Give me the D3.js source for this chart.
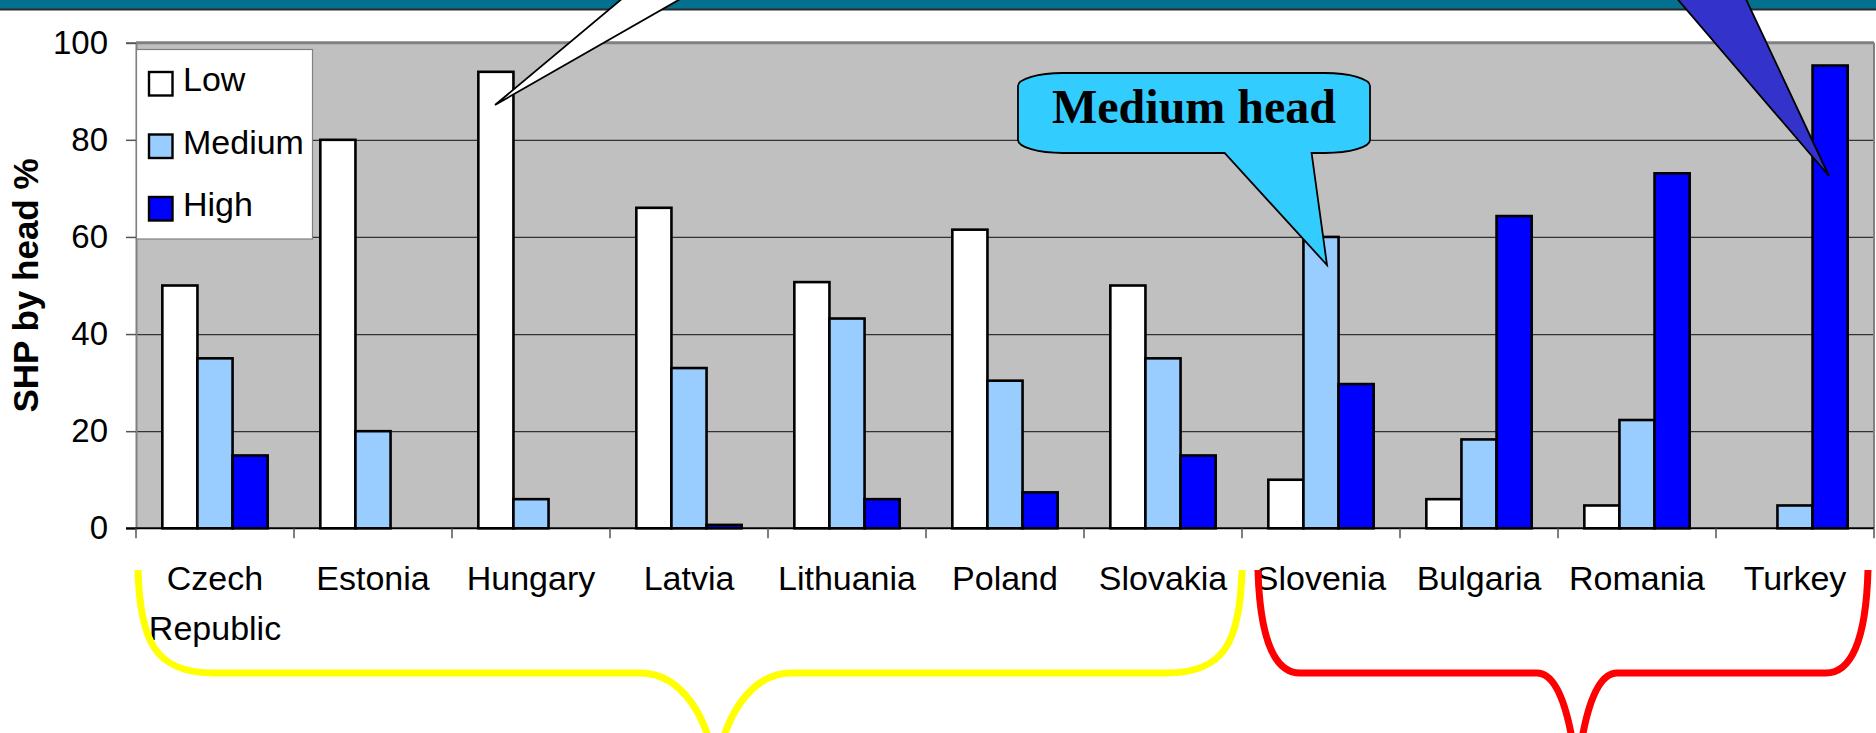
<!DOCTYPE html>
<html>
<head>
<meta charset="utf-8">
<script src="https://cdnjs.cloudflare.com/ajax/libs/d3/7.8.5/d3.min.js"></script>
<style>
  html, body { margin: 0; padding: 0; background: #fff; }
  svg { display: block; }
  text { font-family: "Liberation Sans", Arial, sans-serif; }
</style>
</head>
<body>
<div id="chart"></div>
<script>
'use strict';

var categories = ['Czech Republic', 'Estonia', 'Hungary', 'Latvia', 'Lithuania', 'Poland',
  'Slovakia', 'Slovenia', 'Bulgaria', 'Romania', 'Turkey'];
var seriesNames = ['Low', 'Medium', 'High'];
var lowValues = [50, 80, 94, 66, 50.7, 61.5, 50, 10, 6, 4.7, 0];
var mediumValues = [35, 20, 6, 33, 43.2, 30.4, 35, 60, 18.3, 22.3, 4.7];
var highValues = [15, 0, 0, 0.7, 6, 7.4, 15, 29.7, 64.3, 73.1, 95.3];
var yTicks = [0, 20, 40, 60, 80, 100];
var colors = ['#FFFFFF', '#99CCFF', '#0000FF'];

var W = 1876, H = 733;
var plotLeft = 136, plotRight = 1874, plotTop = 42.7, plotBottom = 528.3;

var svg = d3.select('#chart').append('svg')
  .attr('width', W)
  .attr('height', H);

svg.append('rect').attr('width', W).attr('height', H).attr('fill', '#fff');

// slide header strip
svg.append('rect').attr('x', 0).attr('y', 0).attr('width', W).attr('height', 9)
  .attr('fill', '#03708F');
svg.append('line').attr('x1', 0).attr('x2', W).attr('y1', 9.5).attr('y2', 9.5)
  .attr('stroke', '#2a2a2a').attr('stroke-width', 2);

var x0 = d3.scaleBand().domain(categories).range([plotLeft, plotRight]).padding(0);
var x1 = d3.scaleBand().domain(seriesNames).range([0, x0.bandwidth()])
  .paddingInner(0).paddingOuter(0.75);
var y = d3.scaleLinear().domain([0, 100]).range([plotBottom, plotTop]);

var rows = categories.map(function(c, i){
  return {cat: c, values: [lowValues[i], mediumValues[i], highValues[i]]};
});

// plot area
svg.append('rect')
  .attr('x', plotLeft).attr('y', plotTop)
  .attr('width', plotRight - plotLeft).attr('height', plotBottom - plotTop)
  .attr('fill', '#C0C0C0');

svg.append('g')
  .attr('class', 'grid')
  .attr('transform', 'translate(' + plotLeft + ',0)')
  .call(d3.axisLeft(y).tickValues([20, 40, 60, 80]).tickSize(-(plotRight - plotLeft)).tickFormat(''))
  .call(function(g){
    g.select('.domain').remove();
    g.selectAll('line').attr('stroke', '#333').attr('stroke-width', 1.2);
  });

svg.append('line')
  .attr('x1', plotLeft).attr('x2', plotRight).attr('y1', plotTop).attr('y2', plotTop)
  .attr('stroke', '#808080').attr('stroke-width', 3);
svg.append('line')
  .attr('x1', plotRight).attr('x2', plotRight).attr('y1', plotTop).attr('y2', plotBottom)
  .attr('stroke', '#808080').attr('stroke-width', 2);

// bars
var groups = svg.append('g').selectAll('g')
  .data(rows)
  .join('g')
  .attr('transform', function(d){ return 'translate(' + x0(d.cat) + ',0)'; });

groups.selectAll('rect')
  .data(function(d){
    return d.values.map(function(v, i){ return {name: seriesNames[i], value: v, i: i}; })
      .filter(function(e){ return e.value > 0; });
  })
  .join('rect')
  .attr('x', function(d){ return x1(d.name); })
  .attr('width', x1.bandwidth())
  .attr('y', function(d){ return y(d.value); })
  .attr('height', function(d){ return y(0) - y(d.value); })
  .attr('fill', function(d){ return colors[d.i]; })
  .attr('stroke', '#000')
  .attr('stroke-width', 2.6);

// y axis
svg.append('g')
  .attr('transform', 'translate(' + plotLeft + ',0)')
  .call(d3.axisLeft(y).tickValues(yTicks).tickSize(10).tickPadding(18))
  .call(function(g){
    g.select('.domain').attr('stroke', '#808080').attr('stroke-width', 2);
    g.selectAll('.tick line').attr('stroke', '#555').attr('stroke-width', 1.5);
    g.selectAll('text')
      .attr('fill', '#000')
      .style('font-size', '33px')
      .style('font-family', '"Liberation Sans", Arial, sans-serif');
  });

// x axis with ticks on category boundaries
var xAxis = svg.append('g');
xAxis.append('line')
  .attr('x1', plotLeft - 10).attr('x2', plotRight).attr('y1', plotBottom).attr('y2', plotBottom)
  .attr('stroke', '#000').attr('stroke-width', 2);
xAxis.selectAll('.bound')
  .data(categories.concat(['end']))
  .join('line')
  .attr('class', 'bound')
  .attr('x1', function(d){ return d === 'end' ? plotRight : x0(d); })
  .attr('x2', function(d){ return d === 'end' ? plotRight : x0(d); })
  .attr('y1', plotBottom).attr('y2', plotBottom + 10)
  .attr('stroke', '#555').attr('stroke-width', 1.5);

xAxis.selectAll('.catLabel')
  .data(categories)
  .join('text')
  .attr('class', 'catLabel')
  .attr('text-anchor', 'middle')
  .style('font-size', '34px')
  .each(function(d){
    var t = d3.select(this);
    d.split(' ').forEach(function(w, i){
      t.append('tspan')
        .attr('x', x0(d) + x0.bandwidth() / 2)
        .attr('y', 590 + i * 50)
        .text(w);
    });
  });

svg.append('text')
  .attr('transform', 'translate(38,' + ((plotTop + plotBottom) / 2) + ') rotate(-90)')
  .attr('text-anchor', 'middle')
  .style('font-size', '35px')
  .style('font-weight', 'bold')
  .text('SHP by head %');

// legend
var legend = svg.append('g');
legend.append('rect')
  .attr('x', 136.5).attr('y', 49.5).attr('width', 176).attr('height', 189.5)
  .attr('fill', '#fff').attr('stroke', '#808080').attr('stroke-width', 1.2);
var items = legend.selectAll('.item')
  .data(seriesNames)
  .join('g')
  .attr('class', 'item')
  .attr('transform', function(d, i){ return 'translate(0,' + (i * 62.5) + ')'; });
items.append('rect')
  .attr('x', 149).attr('y', 72).attr('width', 23.5).attr('height', 23.5)
  .attr('fill', function(d, i){ return colors[i]; })
  .attr('stroke', '#000').attr('stroke-width', 2.4);
items.append('text')
  .attr('x', 183).attr('y', 91)
  .style('font-size', '34px')
  .text(function(d){ return d; });

// group braces under the axis
var braces = [
  {from: 'Czech Republic', to: 'Slovakia', inL: 2, inR: 0, tip: 716, corner: 76, tw: 76, color: '#FFFF00'},
  {from: 'Slovenia', to: 'Turkey', inL: 16, inR: 6, tip: 1577, corner: 42, tw: 40, color: '#FF0000'}
];
svg.append('g').selectAll('path')
  .data(braces)
  .join('path')
  .attr('fill', 'none')
  .attr('stroke', function(d){ return d.color; })
  .attr('stroke-width', 7)
  .attr('d', function(d){
    var a = x0(d.from) + d.inL, b = x0(d.to) + x0.bandwidth() - d.inR;
    var y0 = 570, y1 = 673, y2 = 775, c = d.corner, t = d.tip, w = d.tw;
    return 'M' + a + ',' + y0 +
      'C' + (a + 2) + ',' + (y1 - 30) + ' ' + (a + 18) + ',' + y1 + ' ' + (a + c) + ',' + y1 +
      'H' + (t - w) +
      'C' + (t - w * 0.45) + ',' + y1 + ' ' + (t - 6) + ',' + (y1 + 45) + ' ' + t + ',' + y2 +
      'M' + t + ',' + y2 +
      'C' + (t + 6) + ',' + (y1 + 45) + ' ' + (t + w * 0.45) + ',' + y1 + ' ' + (t + w) + ',' + y1 +
      'H' + (b - c) +
      'C' + (b - 18) + ',' + y1 + ' ' + (b - 2) + ',' + (y1 - 30) + ' ' + b + ',' + y0;
  });

// callouts
svg.append('path')
  .attr('d', 'M626.5,-5L495,105L687.3,-5')
  .attr('fill', '#fff').attr('stroke', '#000').attr('stroke-width', 1.8);

svg.append('path')
  .attr('d', 'M1674,-5L1829,176L1744,-5')
  .attr('fill', '#3333CC').attr('stroke', '#000').attr('stroke-width', 1.8);

svg.append('path')
  .attr('d', 'M1063,73H1325A45,13 0 0 1 1370,86V140A45,13 0 0 1 1325,153H1311.6L1327,265' +
    'L1224.6,153H1063A45,13 0 0 1 1018,140V86A45,13 0 0 1 1063,73Z')
  .attr('fill', '#33CCFF').attr('stroke', '#000').attr('stroke-width', 1.8);

svg.append('text')
  .attr('x', 1194).attr('y', 123)
  .attr('text-anchor', 'middle')
  .style('font-family', '"Liberation Serif", "Times New Roman", serif')
  .style('font-weight', 'bold')
  .style('font-size', '48px')
  .text('Medium head');
</script>
</body>
</html>
